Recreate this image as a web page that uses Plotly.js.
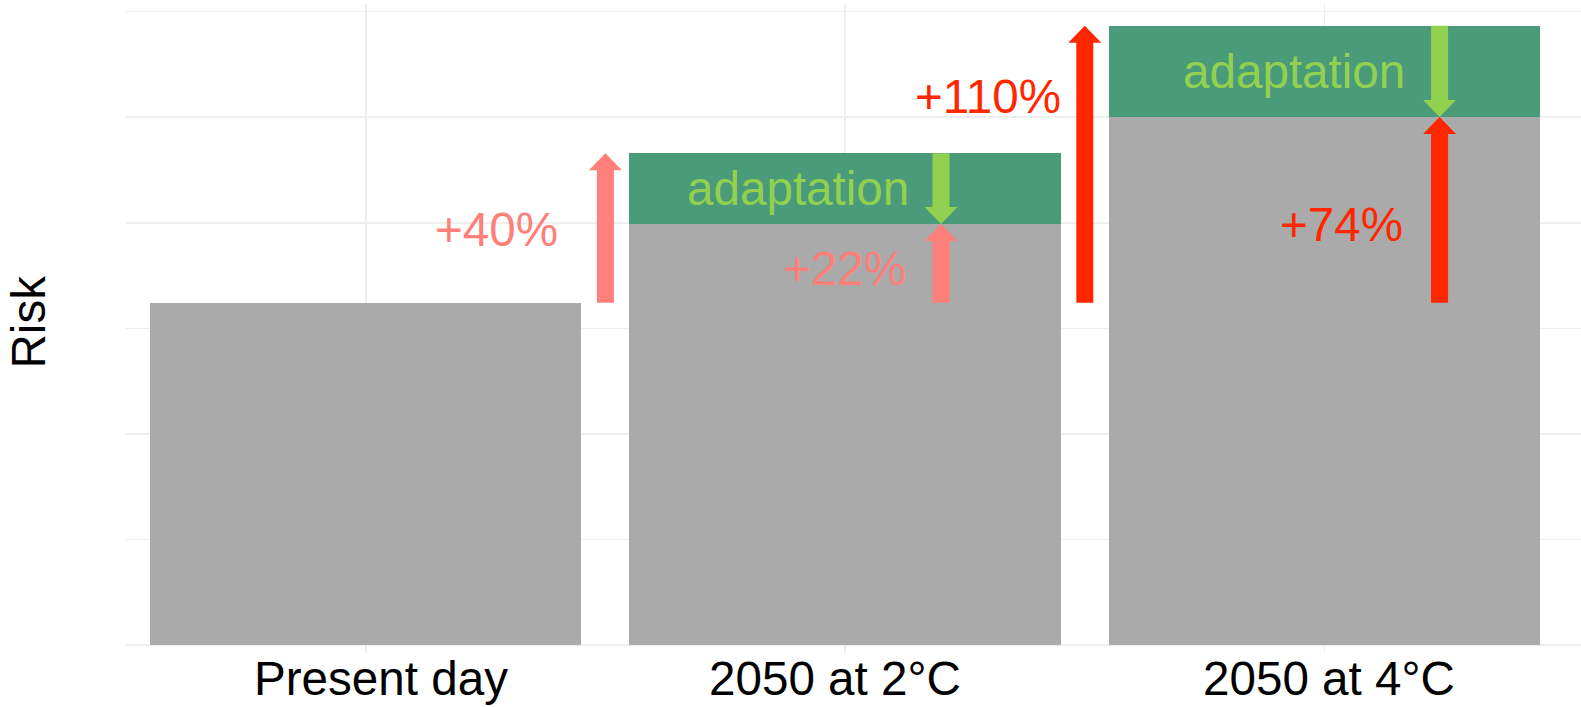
<!DOCTYPE html>
<html>
<head>
<meta charset="utf-8">
<script src="https://cdn.plot.ly/plotly-3.0.1.min.js"></script>
<style>
  html, body { margin: 0; padding: 0; background: #ffffff; }
  #chart { width: 1581px; height: 707px; }
</style>
</head>
<body>
<div id="chart"></div>
<script>
// Scenarios on the x axis
const scenarios = ['Present day', '2050 at 2°C', '2050 at 4°C'];
// Risk that remains once adaptation is in place (grey part of each bar)
const adaptedRisk = [3.243, 3.988, 5.001];
// Extra risk that adaptation removes (green part stacked on top)
const adaptationGain = [0, 0.670, 0.865];
// Change from present day, without and with adaptation (2°C, 4°C)
const changeNoAdaptation = ['+40%', '+110%'];
const changeWithAdaptation = ['+22%', '+74%'];
const adaptationLabel = 'adaptation';
const yTitle = 'Risk';

// Colours
const GREY = '#AAAAAA';
const BAND_GREEN = '#4A9B7A';
const LIGHT_GREEN = '#92D050';
const SALMON = '#FF7F7A';
const RED = '#FF2600';
const GRID = '#EEEEEE';

// Geometry
const W = 1581, H = 707;
const margin = { l: 126, r: 0, t: 4, b: 54, pad: 0 };
const xRange = [-0.5, 2.535];
const yRange = [-0.073, 6.071];
const pxPerUnit = (H - margin.t - margin.b) / (yRange[1] - yRange[0]);
const SHAFT_HALF = 8.5, HEAD_HALF = 16.5, HEAD_LEN = 17;
const FONT = '"Liberation Sans", Arial, Helvetica, sans-serif';
const FS = 47.6;

const totalRisk = adaptedRisk.map((v, i) => v + adaptationGain[i]);

// Block arrow from one risk level to another, x given in category units
function blockArrow(x, from, to, color) {
  const dir = to > from ? 1 : -1;
  const neck = to - dir * HEAD_LEN / pxPerUnit;
  const path = `M${-SHAFT_HALF},${from} L${-SHAFT_HALF},${neck} L${-HEAD_HALF},${neck} ` +
               `L0,${to} L${HEAD_HALF},${neck} L${SHAFT_HALF},${neck} L${SHAFT_HALF},${from} Z`;
  return {
    type: 'path', xref: 'x', yref: 'y', xsizemode: 'pixel', xanchor: x,
    path: path, fillcolor: color, line: { width: 0 }, layer: 'above'
  };
}

function label(text, x, y, color, xshift) {
  return {
    text: text, x: x, y: y, xref: 'x', yref: 'y',
    xanchor: 'right', yanchor: 'middle', xshift: xshift,
    showarrow: false, font: { family: FONT, size: FS, color: color }
  };
}

const shapes = [];
const annotations = [];

// Future scenarios: i = 1 (2°C), i = 2 (4°C)
const gapArrowX = [0.5, 1.5];          // arrows in the gap before each bar
const inBarArrowX = [1.2, 2.24];       // arrows drawn inside each bar
const noAdaptColor = [SALMON, RED];
const noAdaptLabelY = [3.936, 5.20];
const withAdaptLabelY = [3.565, 3.984];
const noAdaptShift = [-45.7, -21.5];
const withAdaptShift = [-33, -34.4];
const adaptShift = [-30, -32.4];

for (let k = 0; k < 2; k++) {
  const i = k + 1;
  const c = noAdaptColor[k];
  shapes.push(blockArrow(gapArrowX[k], adaptedRisk[0], totalRisk[i], c));
  shapes.push(blockArrow(inBarArrowX[k], adaptedRisk[0], adaptedRisk[i], c));
  shapes.push(blockArrow(inBarArrowX[k], totalRisk[i], adaptedRisk[i], LIGHT_GREEN));

  annotations.push(label(changeNoAdaptation[k], gapArrowX[k], noAdaptLabelY[k], c, noAdaptShift[k]));
  annotations.push(label(changeWithAdaptation[k], inBarArrowX[k], withAdaptLabelY[k], c, withAdaptShift[k]));
  annotations.push(label(adaptationLabel, inBarArrowX[k],
    (adaptedRisk[i] + totalRisk[i]) / 2, LIGHT_GREEN, adaptShift[k]));
}

// Category labels under the bars
const catShift = [15.5, -10, 4.5];
scenarios.forEach((s, i) => {
  annotations.push({
    text: s, x: i, y: 0, xref: 'x', yref: 'paper',
    xanchor: 'center', yanchor: 'top', xshift: catShift[i], yshift: 3,
    showarrow: false, font: { family: FONT, size: FS, color: '#000000' }
  });
});

// Axis title
annotations.push({
  text: yTitle, x: 0, y: 0.5, xref: 'paper', yref: 'paper',
  xanchor: 'center', yanchor: 'middle', xshift: -98, yshift: 6,
  textangle: -90, showarrow: false, borderpad: 0,
  font: { family: FONT, size: FS, color: '#000000' }
});

const traces = [
  {
    type: 'bar', x: scenarios, y: adaptedRisk, width: 0.9,
    marker: { color: GREY, line: { width: 0 } }, hoverinfo: 'skip', showlegend: false
  },
  {
    type: 'bar', x: scenarios, y: adaptationGain, width: 0.9,
    marker: { color: BAND_GREEN, line: { width: 0 } }, hoverinfo: 'skip', showlegend: false
  }
];

const layout = {
  width: W, height: H, autosize: false, margin: margin,
  paper_bgcolor: '#ffffff', plot_bgcolor: '#ffffff',
  barmode: 'stack', showlegend: false,
  font: { family: FONT, size: FS, color: '#000000' },
  xaxis: {
    type: 'category', range: xRange, fixedrange: true,
    showgrid: true, gridcolor: GRID, gridwidth: 1.6,
    showticklabels: false, ticks: '', zeroline: false, showline: false
  },
  yaxis: {
    range: yRange, fixedrange: true, tick0: 0, dtick: 1,
    showgrid: true, gridcolor: GRID, gridwidth: 1.6,
    showticklabels: false, ticks: '', zeroline: false, showline: false
  },
  shapes: shapes,
  annotations: annotations
};

Plotly.newPlot('chart', traces, layout, { displayModeBar: false, staticPlot: true });
</script>
</body>
</html>
